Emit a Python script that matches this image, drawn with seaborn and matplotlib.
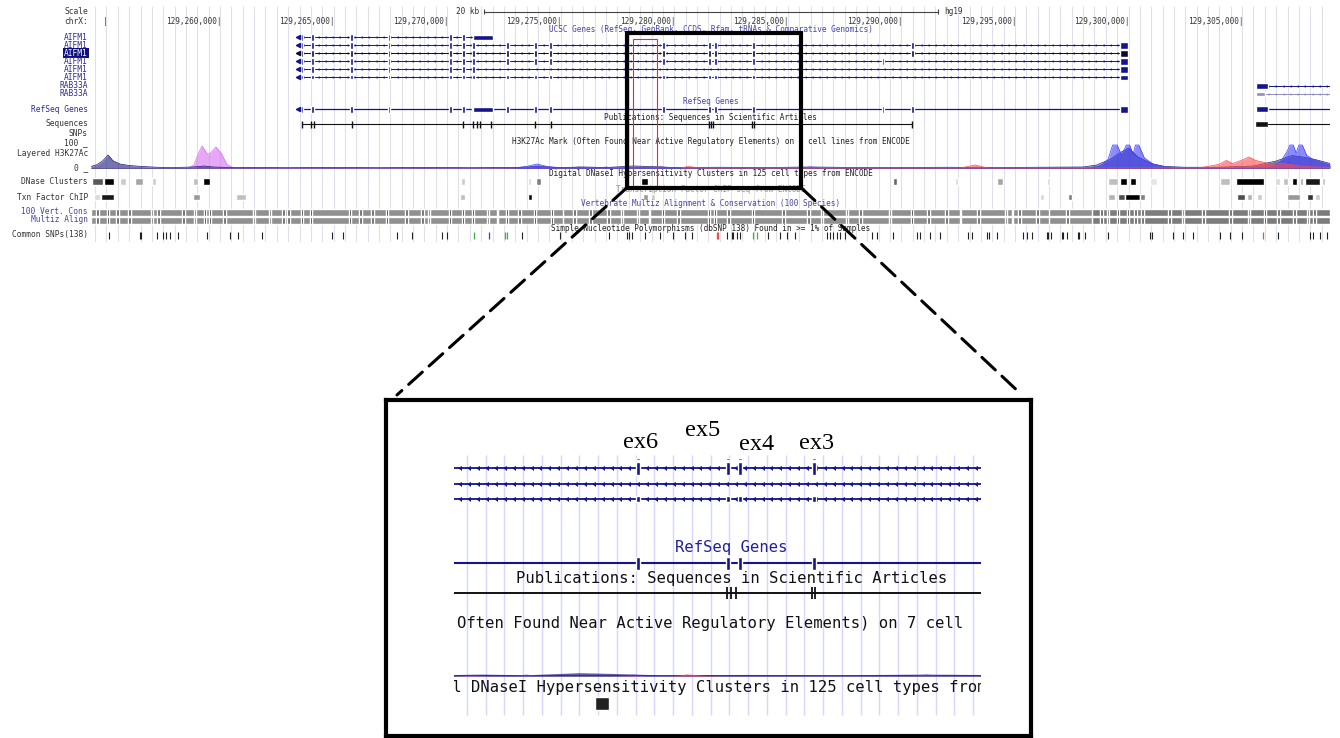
import numpy as np
import matplotlib
matplotlib.use("Agg")
import matplotlib.pyplot as plt
import seaborn as sns
from matplotlib.patches import Rectangle, ConnectionPatch
from matplotlib.transforms import blended_transform_factory

# all positions are kb past chrX:129,250,000 (hg19)
CHROM_BASE = 129250000
VIEW = (4.32, 58.87)
INSET_VIEW = (25.37, 37.23)
POS_TICKS = [10, 15, 20, 25, 30, 35, 40, 45, 50, 55]
EDGE_TICK = 5
SCALE_START = 21.62
SCALE_KB = 20

# zoomed region on the browser and the highlighted exon region
ZOOM_REGION = (27.90, 35.60)
RED_REGION = (28.18, 29.22)

# gene models (exon centres)
AIFM1_CORE = [13.61, 14.09, 15.81, 17.44, 20.13, 20.70, 21.14]
AIFM1_MID = [22.64, 23.87, 24.57, 29.51, 31.53, 31.80, 33.47]
AIFM1_EX2 = [40.47]
AIFM1_EX2_ALT = [39.19]
AIFM1_START = 13.45
AIFM1_SHORT_UTR = (21.14, 22.02)
AIFM1_TSS = (49.63, 49.98)
RAB33A_BLOCK = (55.62, 56.14)

EXON_NAMES = ["ex6", "ex5", "ex4", "ex3"]
EXON_POS = [29.51, 31.53, 31.80, 33.47]

# publications: sequences in scientific articles
SEQ_TICKS = [13.61, 14.01, 14.14, 15.81, 20.70, 21.14, 21.32, 21.45, 21.93,
             23.87, 24.57, 31.52, 31.60, 31.71, 33.42, 33.50, 40.47]
SEQ_SPAN = (13.61, 40.47)
SEQ_RAB33A = (55.57, 56.14)

# layered H3K27Ac (0-100)
NAVY_X = [4.32, 4.6, 4.85, 5.07, 5.3, 5.6, 6.0, 6.6, 7.2, 8.0, 8.8, 9.3, 9.7, 10.4,
          11.5, 13.0, 15.0, 17.0, 19.0, 21.0, 23.0, 23.96, 25.0, 26.0, 27.0, 28.2,
          28.9, 30.0, 32.0, 34.0, 36.0, 38.0, 40.0, 42.0, 44.0, 46.0, 48.0, 48.6,
          49.2, 49.6, 50.0, 50.4, 51.0, 51.6, 52.5, 54.0, 55.5, 56.5, 57.2, 57.8,
          58.3, 58.87]
NAVY_Y = [6, 14, 30, 52, 28, 16, 10, 6, 3, 2, 4, 8, 4, 2, 2, 1, 2, 1, 2, 1, 2, 6,
          2, 4, 2, 8, 6, 2, 3, 2, 4, 2, 2, 3, 2, 3, 4, 12, 35, 60, 80, 45, 18, 6, 3,
          3, 8, 28, 50, 42, 32, 18]
PINK_X = [8.6, 8.85, 9.05, 9.21, 9.45, 9.6, 9.82, 10.05, 10.3, 10.6, 25.5, 25.8, 26.1,
          29.1, 29.4, 29.7]
PINK_Y = [0, 12, 60, 88, 55, 62, 84, 60, 15, 0, 0, 5, 0, 0, 6, 0]
BLUE_X = [22.9, 23.5, 23.96, 24.4, 25.0, 26.7, 27.0, 27.3, 35.6, 36.0, 36.4, 48.3,
          48.8, 49.1, 49.3, 49.5, 49.7, 49.9, 50.05, 50.2, 50.3, 50.45, 50.7, 51.1,
          51.6, 52.2, 56.2, 56.7, 57.0, 57.1, 57.25, 57.38, 57.5, 57.65, 57.85, 58.2,
          58.6, 58.87]
BLUE_Y = [0, 6, 16, 6, 0, 0, 4, 0, 0, 4, 0, 0, 8, 35, 92, 92, 50, 92, 92, 55, 92,
          92, 40, 15, 4, 0, 0, 25, 70, 92, 92, 60, 92, 92, 50, 30, 18, 10]
RED_X = [30.3, 30.6, 30.9, 31.2, 42.6, 43.24, 43.8, 53.1, 53.6, 54.0, 54.3, 54.6,
         55.0, 55.3, 55.6, 55.9, 56.3, 56.8, 57.4, 58.0, 58.87]
RED_Y = [0, 6, 3, 0, 0, 12, 0, 0, 8, 15, 30, 18, 32, 44, 30, 24, 15, 18, 10, 5, 2]

# DNase clusters: start, end, shade (1 = black)
DNASE_START = [4.36, 4.89, 5.60, 6.26, 7.01, 8.81, 9.25, 20.61, 23.56, 23.91, 28.54,
               39.63, 42.36, 44.21, 46.41, 49.10, 49.63, 50.07, 50.95, 54.03, 54.73,
               56.45, 56.80, 57.20, 57.55, 57.77, 58.52]
DNASE_END = [4.85, 5.33, 5.86, 6.61, 7.18, 9.03, 9.56, 20.79, 23.69, 24.13, 28.85,
             39.81, 42.49, 44.48, 46.55, 49.54, 49.94, 50.33, 51.26, 54.47, 55.97,
             56.67, 57.02, 57.42, 57.68, 58.43, 58.65]
DNASE_SHADE = [0.65, 1.0, 0.2, 0.35, 0.2, 0.25, 1.0, 0.2, 0.15, 0.5, 1.0, 0.6, 0.15,
               0.35, 0.15, 0.25, 1.0, 1.0, 0.1, 0.25, 1.0, 0.15, 0.25, 1.0, 0.35,
               0.9, 0.25]

# transcription factor ChIP
TFBS_START = [4.45, 4.76, 8.81, 10.70, 20.57, 23.56, 28.63, 28.98, 46.10, 47.34,
              49.10, 49.54, 49.85, 50.51, 54.78, 55.22, 55.66, 56.98, 57.86, 58.21]
TFBS_END = [4.72, 5.33, 9.12, 11.14, 20.79, 23.74, 28.85, 29.15, 46.28, 47.51,
            49.41, 49.85, 50.51, 50.73, 55.13, 55.44, 55.88, 57.55, 58.12, 58.43]
TFBS_SHADE = [0.15, 0.9, 0.4, 0.25, 0.25, 0.95, 0.4, 0.2, 0.15, 0.5, 0.3, 0.7, 1.0,
              0.5, 0.7, 0.3, 0.2, 0.4, 0.8, 0.2]

# conservation stripes
CONS_DARK = [5.07, 9.34, 9.56, 13.61, 14.01, 15.72, 17.35, 20.13, 20.70, 21.14,
             22.64, 23.87, 24.62, 29.51, 31.53, 31.80, 33.47, 40.47, 49.54, 49.98,
             56.01]
CONS_MID = [4.6, 5.5, 6.0, 7.0, 7.3, 8.4, 8.9, 10.2, 11.5, 12.2, 12.8, 13.0, 16.2,
            16.7, 18.2, 18.9, 19.2, 21.8, 23.2, 25.6, 26.3, 27.1, 27.7, 28.4, 30.2,
            32.4, 34.8, 35.9, 36.5, 37.6, 38.2, 39.5, 41.2, 42.0, 43.4, 44.6, 45.2,
            46.0, 47.3, 48.8, 49.1, 50.3, 50.6, 51.8, 52.4, 53.3, 54.5, 55.3, 56.6,
            57.3, 57.9, 58.2]
CONS_LIGHT = [22.2, 25.1, 28.9, 42.6, 44.9, 46.5]
CONS_DARKER_SPAN = (48.4, 58.87)

# common SNPs (dbSNP 138)
SNP_POS = [5.11, 6.48, 6.52, 7.23, 7.49, 7.62, 7.80, 8.15, 9.43, 10.44, 10.79, 11.85,
           14.93, 15.42, 17.79, 18.45, 19.77, 19.99, 23.30, 24.97, 27.13, 27.92,
           28.01, 28.14, 28.71, 29.37, 29.95, 30.47, 30.78, 32.32, 32.54, 32.59,
           32.76, 32.90, 34.13, 34.66, 34.97, 35.32, 36.73, 36.87, 37.00, 37.17,
           37.30, 37.52, 38.71, 38.93, 39.63, 40.69, 40.82, 41.26, 41.70, 42.93,
           43.11, 43.77, 43.86, 44.21, 45.36, 45.53, 45.75, 46.41, 46.46, 46.59,
           47.07, 47.12, 47.29, 47.78, 47.82, 48.09, 49.10, 50.95, 51.04, 51.96,
           52.40, 52.84, 54.03, 54.47, 55.00, 56.58, 57.99, 58.12, 58.43, 58.74]
SNP_GREEN = [21.18, 22.55, 22.64, 33.47, 33.64]
SNP_BLUE = [21.84]
SNP_RED = [31.88, 31.93, 55.92]

NAVY = "#14148c"
LABEL_BLUE = "#2c2c90"
TITLE_BLUE = "#4646a0"

sns.set_theme(style="white")
plt.rcParams["font.family"] = ["DejaVu Sans Mono", "DejaVu Sans"]

W, H = 1340, 738
fig = plt.figure(figsize=(13.4, 7.38), dpi=100)


def fig_box(x0, y0, x1, y1):
    return [x0 / W, 1 - y1 / H, (x1 - x0) / W, (y1 - y0) / H]


def draw_gene(a, y, span, exons, color, h, w, step, blocks=(), chevrons=True,
              lw=0.9, ms=2.2):
    a.plot(span, [y, y], color=color, lw=lw, solid_capstyle="butt", zorder=3)
    if chevrons:
        cx = np.arange(span[0] + step / 2, span[1], step)
        a.plot(cx, np.full(len(cx), y), ls="none", marker=4, ms=ms, mew=0,
               color=color, zorder=3)
    if exons:
        a.broken_barh([(e - w / 2, w) for e in exons], (y - h / 2, h),
                      facecolors=color, zorder=4)
    for b0, b1, bh in blocks:
        a.broken_barh([(b0, b1 - b0)], (y - bh / 2, bh), facecolors=color, zorder=4)


def shade(v):
    g = 1 - v
    return (g, g, g)


# ---------------- browser panel ----------------
ax = fig.add_axes(fig_box(91, 0, 1330, 242))
ax.set_xlim(*VIEW)
ax.set_ylim(242, 0)
ax.axis("off")
bt = blended_transform_factory(ax.transAxes, ax.transData)

ax.vlines(np.arange(4.5, VIEW[1], 0.5), 6, 242, colors="#e0e0ea", lw=0.8, zorder=0)


def left_label(y, text, color="#333333", **kw):
    ax.annotate(text, xy=(0, y), xycoords=bt, xytext=(-2.2, 0),
                textcoords="offset points", ha="right", va="center",
                fontsize=5.7, color=color, annotation_clip=False, **kw)


def title(y, text, color="#222222"):
    ax.text(0.5, y, text, transform=bt, ha="center", va="center", fontsize=5.6,
            color=color, zorder=5)


# scale and position
left_label(12, "Scale")
left_label(22, "chrX:")
ax.plot([SCALE_START, SCALE_START + SCALE_KB], [11.5, 11.5], color="#444", lw=0.8)
ax.vlines([SCALE_START, SCALE_START + SCALE_KB], 9, 14, colors="#444", lw=0.8)
ax.text(SCALE_START - 0.2, 11.5, f"{SCALE_KB} kb", ha="right", va="center",
        fontsize=5.6, color="#333")
ax.text(SCALE_START + SCALE_KB + 0.25, 11.5, "hg19", ha="left", va="center",
        fontsize=5.6, color="#333")
for p in POS_TICKS:
    ax.text(p + 0.05, 22, f"{CHROM_BASE + int(p * 1000):,}|", ha="right",
            va="center", fontsize=5.6, color="#333")
ax.text(EDGE_TICK + 0.05, 22, "|", ha="right", va="center", fontsize=5.6, color="#333")

# UCSC genes
title(29.5, "UCSC Genes (RefSeq, GenBank, CCDS, Rfam, tRNAs & Comparative Genomics)",
      TITLE_BLUE)
gene_rows = [37, 45, 53, 61, 69, 77]
full = AIFM1_CORE + AIFM1_MID
tss = (AIFM1_TSS[0], AIFM1_TSS[1], 7)
models = [
    ((AIFM1_START, AIFM1_SHORT_UTR[1]), AIFM1_CORE[:-1], NAVY, 7,
     [(AIFM1_SHORT_UTR[0], AIFM1_SHORT_UTR[1], 5)]),
    ((AIFM1_START, AIFM1_TSS[1]), full + AIFM1_EX2, NAVY, 7, [tss]),
    ((AIFM1_START, AIFM1_TSS[1]), full + AIFM1_EX2, "#0a0a30", 7, [tss]),
    ((AIFM1_START, AIFM1_TSS[1]), full + AIFM1_EX2_ALT, NAVY, 7, [tss]),
    ((AIFM1_START, AIFM1_TSS[1]), AIFM1_CORE, NAVY, 7, [tss]),
    ((AIFM1_START, AIFM1_TSS[1]), full, NAVY, 4, [(AIFM1_TSS[0], AIFM1_TSS[1], 5)]),
]
for y, (span, ex, col, h, blocks) in zip(gene_rows, models):
    draw_gene(ax, y, span, ex, col, h, 0.13, 0.32, blocks, lw=0.7, ms=2.0)
    ax.plot(AIFM1_START, y, marker="<", ms=3, color=col, zorder=4)
    if y == 53:
        left_label(y, "AIFM1", color="white",
                   bbox=dict(boxstyle="square,pad=0.12", fc="#101080", ec="none"))
    else:
        left_label(y, "AIFM1", LABEL_BLUE)

for y, col, h in [(86, NAVY, 6), (94, "#8c8cc8", 4)]:
    draw_gene(ax, y, (RAB33A_BLOCK[0], VIEW[1]), [], col, h, 0.13, 0.32,
              [(RAB33A_BLOCK[0], RAB33A_BLOCK[1] - (0 if y == 86 else 0.12), h)],
              lw=0.7, ms=2.0)
    left_label(y, "RAB33A", LABEL_BLUE)

# RefSeq genes
title(102, "RefSeq Genes", TITLE_BLUE)
left_label(109, "RefSeq Genes", LABEL_BLUE)
draw_gene(ax, 109, (AIFM1_START, AIFM1_TSS[1]), full + AIFM1_EX2 + AIFM1_EX2_ALT,
          NAVY, 7, 0.13, 0.3, [(AIFM1_SHORT_UTR[0], AIFM1_SHORT_UTR[1], 5), tss],
          chevrons=False)
ax.plot(AIFM1_START, 109, marker="<", ms=3, color=NAVY, zorder=4)
draw_gene(ax, 109, (RAB33A_BLOCK[0], VIEW[1]), [], NAVY, 6, 0.13, 0.3,
          [(RAB33A_BLOCK[0], RAB33A_BLOCK[1], 6)], chevrons=False)

# publications
title(117, "Publications: Sequences in Scientific Articles")
left_label(124, "Sequences")
left_label(133, "SNPs")
ax.plot(SEQ_SPAN, [124, 124], color="#111", lw=0.8)
ax.vlines(SEQ_TICKS, 121, 127.5, colors="#111", lw=1.0)
ax.broken_barh([(SEQ_RAB33A[0], SEQ_RAB33A[1] - SEQ_RAB33A[0])], (121, 6),
               facecolors="#111")
ax.plot([SEQ_RAB33A[1], VIEW[1]], [124, 124], color="#111", lw=0.8)

# H3K27Ac
title(141, "H3K27Ac Mark (Often Found Near Active Regulatory Elements) on 7 cell lines from ENCODE")
left_label(143, "100 _")
left_label(153, "Layered H3K27Ac")
left_label(168, "0 _")
base = 168
ax.plot(VIEW, [base, base], color="#6a5a9a", lw=0.6, zorder=2)
for xs, ys, col in [(PINK_X, PINK_Y, "#d66ef0"), (NAVY_X, NAVY_Y, "#1a1a78"),
                    (BLUE_X, BLUE_Y, "#4040ff"), (RED_X, RED_Y, "#ff4a4a")]:
    yv = base - 0.25 * np.array(ys)
    ax.fill_between(xs, base, yv, color=col, alpha=0.6, lw=0, zorder=2)
    sns.lineplot(x=xs, y=yv, ax=ax, color=col, lw=0.5, estimator=None, sort=False,
                 zorder=2)

# DNase / TFBS
title(174, "Digital DNaseI Hypersensitivity Clusters in 125 cell types from ENCODE")
left_label(181, "DNase Clusters")
for s, e, v in zip(DNASE_START, DNASE_END, DNASE_SHADE):
    ax.broken_barh([(s, e - s)], (178, 6.5), facecolors=[shade(v)], zorder=3)
ax.text(0.5, 190, "Transcription Factor ChIP-seq from ENCODE", transform=bt,
        ha="center", va="center", fontsize=5.6, color="#9a9a9a", zorder=5)
left_label(197, "Txn Factor ChIP")
for s, e, v in zip(TFBS_START, TFBS_END, TFBS_SHADE):
    ax.broken_barh([(s, e - s)], (193.5, 6.5), facecolors=[shade(v)], zorder=3)

# conservation
title(204, "Vertebrate Multiz Alignment & Conservation (100 Species)", TITLE_BLUE)
left_label(212, "100 Vert. Cons", TITLE_BLUE)
left_label(220, "Multiz Align", TITLE_BLUE)
for y0 in (208.5, 216.8):
    ax.broken_barh([(VIEW[0], VIEW[1] - VIEW[0])], (y0, 7), facecolors="#909090",
                   zorder=2)
    ax.broken_barh([(CONS_DARKER_SPAN[0], CONS_DARKER_SPAN[1] - CONS_DARKER_SPAN[0])],
                   (y0, 7), facecolors="#7c7c7c", zorder=2)
    ax.broken_barh([(x - 0.02, 0.04) for x in CONS_LIGHT], (y0, 7),
                   facecolors="#e2e2e2", zorder=3)
    ax.broken_barh([(x - 0.06, 0.12) for x in CONS_MID], (y0, 7),
                   facecolors="#5c5c5c", zorder=3)
    ax.broken_barh([(x - 0.05, 0.1) for x in CONS_DARK], (y0, 7),
                   facecolors="#0a0a0a", zorder=3)

# SNPs
title(228.5, "Simple Nucleotide Polymorphisms (dbSNP 138) Found in >= 1% of Samples")
left_label(235, "Common SNPs(138)")
ax.vlines(SNP_POS, 231.5, 238.5, colors="#222", lw=0.8)
ax.vlines(SNP_GREEN, 231.5, 238.5, colors="#3cb43c", lw=0.9)
ax.vlines(SNP_BLUE, 231.5, 238.5, colors="#3c3cd0", lw=0.9)
ax.vlines(SNP_RED, 231.5, 238.5, colors="#e05050", lw=0.9)

# zoom boxes
ax.add_patch(Rectangle((RED_REGION[0], 39), RED_REGION[1] - RED_REGION[0], 147,
                       fill=False, ec="#ff2020", lw=0.8, zorder=9, clip_on=False))
ax.add_patch(Rectangle((ZOOM_REGION[0], 33), ZOOM_REGION[1] - ZOOM_REGION[0], 155,
                       fill=False, ec="black", lw=3.0, zorder=10, clip_on=False))

# ---------------- zoomed inset ----------------
ax_frame = fig.add_axes(fig_box(386, 400, 1031, 736))
ax_frame.set_xticks([])
ax_frame.set_yticks([])
for sp in ax_frame.spines.values():
    sp.set_color("black")
    sp.set_linewidth(3.0)

axi = fig.add_axes(fig_box(454, 400, 981, 736))
axi.set_xlim(*INSET_VIEW)
axi.set_ylim(736, 400)
axi.axis("off")
axi.set_zorder(ax_frame.get_zorder() + 1)
bti = blended_transform_factory(axi.transAxes, axi.transData)

axi.vlines(np.arange(25.66, INSET_VIEW[1], 0.422), 455, 715, colors="#d6d6ff",
           lw=1.0, zorder=0)

in_models = [(468, full + AIFM1_EX2_ALT, 13), (484, AIFM1_CORE, 13), (499, full, 6)]
for y, ex, h in in_models:
    ex_in = [e for e in ex if INSET_VIEW[0] < e < INSET_VIEW[1]]
    draw_gene(axi, y, INSET_VIEW, ex_in, NAVY, h, 0.09, 0.2, lw=1.3, ms=3.6)
    if h == 13:
        axi.broken_barh([(e - 0.045, 0.09) for e in ex_in], (457.5, 2.5),
                        facecolors=NAVY, zorder=4)

for name, x, y, dx in zip(EXON_NAMES, EXON_POS, [442, 430, 444, 443],
                          [2.2, -18, 12.2, 2.2]):
    axi.annotate(name, xy=(x, y), xytext=(dx, 0), textcoords="offset points",
                 ha="center", va="center", fontsize=17.5, family="Liberation Serif",
                 color="black", annotation_clip=False)

axi.text(0.526, 547, "RefSeq Genes", transform=bti, ha="center", va="center",
         fontsize=11.2, color="#2020a0")
ex_ref = [e for e in full if INSET_VIEW[0] < e < INSET_VIEW[1]]
draw_gene(axi, 563, INSET_VIEW, ex_ref, NAVY, 13, 0.09, 0.2, chevrons=False, lw=1.5)

axi.text(0.526, 578, "Publications: Sequences in Scientific Articles", transform=bti,
         ha="center", va="center", fontsize=11.2, color="#111")
axi.plot(INSET_VIEW, [593, 593], color="#111", lw=1.4)
seq_in = [t for t in SEQ_TICKS if INSET_VIEW[0] < t < INSET_VIEW[1]]
axi.vlines(seq_in, 587, 599, colors="#111", lw=1.3)

axi.text(0.006, 623, "Often Found Near Active Regulatory Elements) on 7 cell",
         transform=bti, ha="left", va="center", fontsize=11.2, color="#111")

ibase = 676
axi.plot(INSET_VIEW, [ibase, ibase], color="#5a4a9a", lw=1.2, zorder=2)
for xs, ys, col in [(PINK_X, PINK_Y, "#d66ef0"), (NAVY_X, NAVY_Y, "#1a1a78"),
                    (BLUE_X, BLUE_Y, "#4040ff"), (RED_X, RED_Y, "#ff4a4a")]:
    yv = ibase - 0.35 * np.array(ys)
    axi.fill_between(xs, ibase, yv, color=col, alpha=0.7, lw=0, zorder=2)

t = axi.text((396 - 454) / 527, 687,
             "Digital DNaseI Hypersensitivity Clusters in 125 cell types from ENCODE",
             transform=bti, ha="left", va="center", fontsize=11.2, color="#111")
t.set_clip_on(True)
for s, e, v in zip(DNASE_START, DNASE_END, DNASE_SHADE):
    if INSET_VIEW[0] < s < INSET_VIEW[1]:
        axi.broken_barh([(s, e - s)], (697, 13), facecolors=[(0.13, 0.13, 0.13)],
                        zorder=3)

# dashed connectors
for xa, xb in [(ZOOM_REGION[0], 0.017), (ZOOM_REGION[1], 0.986)]:
    con = ConnectionPatch(xyA=(xa, 188), coordsA=ax.transData,
                          xyB=(xb, 1.015), coordsB=ax_frame.transAxes,
                          color="black", lw=2.2, linestyle=(0, (6, 3)))
    fig.add_artist(con)

fig.savefig("out.png", dpi=100)
